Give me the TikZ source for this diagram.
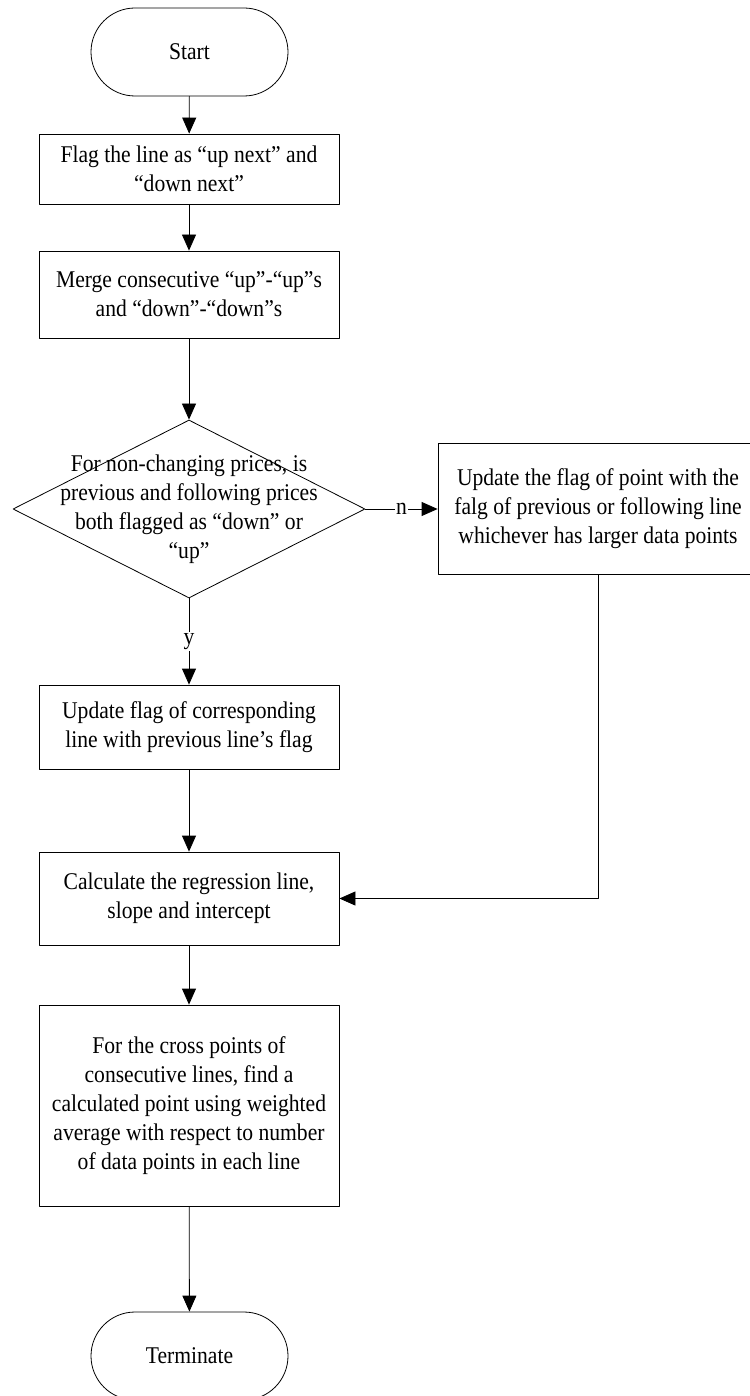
\documentclass[tikz,border=0pt]{standalone}
\usepackage{fontspec}
\setmainfont[FakeStretch=0.9]{Liberation Serif}
\usetikzlibrary{arrows.meta}
\usetikzlibrary{shapes.geometric}

\begin{document}
\begin{tikzpicture}[x=1pt,y=-1pt,line cap=round,line join=round,>={Triangle[length=16pt,width=14pt]},
        every node/.style={font=\fontsize{24}{29}\selectfont},
        process/.style={draw,line width=0.8pt,rectangle,minimum width=300pt,align=center,inner sep=0pt},
        terminal/.style={draw,line width=0.8pt,rectangle,rounded corners=44pt,minimum width=197pt,minimum height=88pt},
        decision/.style={draw,line width=0.8pt,diamond,minimum width=352pt,minimum height=178pt,inner sep=0pt},
        flow/.style={->,line width=0.8pt},
        answer/.style={fill=white,inner sep=1.5pt}]
        \useasboundingbox (0,0) rectangle (749,1396);
        \node[terminal] (start) at (189.5,52) {Start};
        \node[process,minimum height=70pt] (flag) at (189,169) {Flag the line as “up next” and\\“down next”};
        \node[process,minimum height=87pt] (merge) at (189,294.5) {Merge consecutive “up”-“up”s\\and “down”-“down”s};
        \node[decision,label={[align=center]center:For non-changing prices, is\\previous and following prices\\both flagged as “down” or\\“up”}] (check) at (189,509) {};
        \node[process,minimum width=320pt,minimum height=131pt] (adjust) at (598,508.5) {Update the flag of point with the\\falg of previous or following line\\whichever has larger data points};
        \node[process,minimum height=84pt] (update) at (189,727) {Update flag of corresponding\\line with previous line’s flag};
        \node[process,minimum height=93pt] (regress) at (189,898.5) {Calculate the regression line,\\slope and intercept};
        \node[process,minimum height=201pt] (cross) at (189,1105.5) {For the cross points of\\consecutive lines, find a\\calculated point using weighted\\average with respect to number\\of data points in each line};
        \node[terminal] (stop) at (189.5,1356) {Terminate};
        \draw[flow] (start) -- (flag);
        \draw[flow] (flag) -- (merge);
        \draw[flow] (merge) -- (check);
        \draw[flow] (check.east) -- node[answer] {n} (check.east -| adjust.west);
        \draw[flow] (check) -- node[answer] {y} (update);
        \draw[flow] (update) -- (regress);
        \draw[flow] (adjust.south) |- (regress.east);
        \draw[flow] (regress) -- (cross);
        \draw[flow] (cross) -- (stop);
      \end{tikzpicture}
\end{document}
